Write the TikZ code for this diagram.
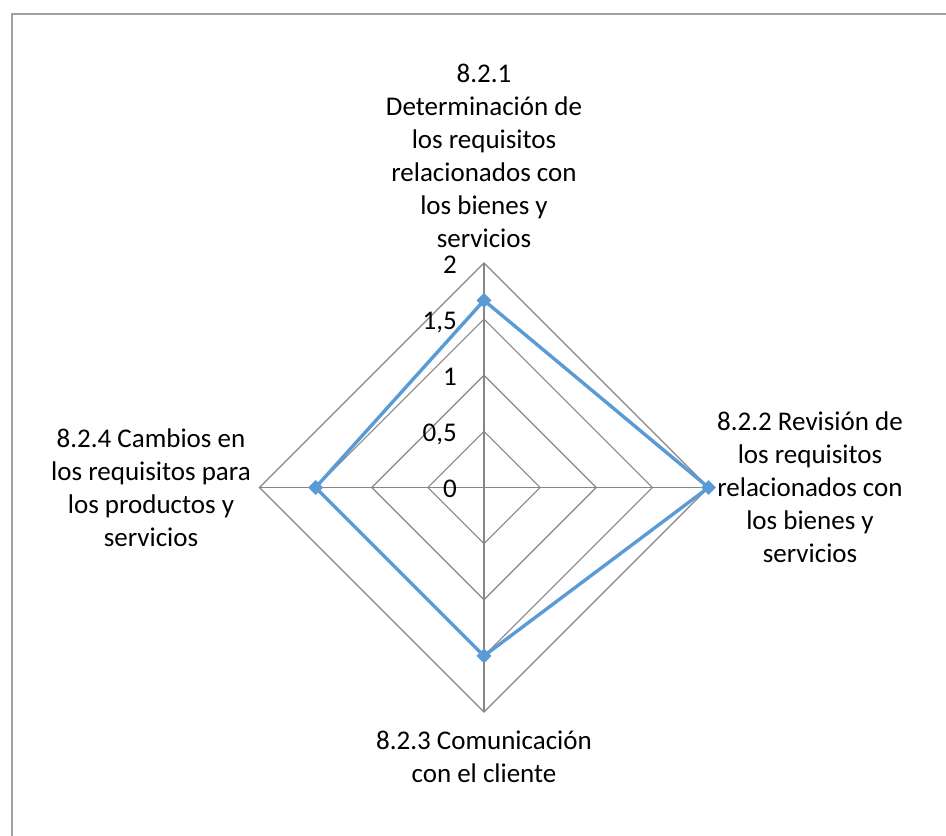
\documentclass[tikz,border=0pt]{standalone}
\usepackage{fontspec}
\setmainfont{Carlito}
\usetikzlibrary{shapes.geometric}
\definecolor{gridgray}{HTML}{868686}
\definecolor{serblue}{HTML}{5B9BD5}
\definecolor{framegray}{HTML}{A0A0A0}
\begin{document}
\begin{tikzpicture}[x=1pt,y=-1pt,
  gridline/.style={draw=gridgray,line width=1.1pt},
  frameline/.style={draw=framegray,line width=1.6pt},
  series/.style={draw=serblue,line width=3.4pt,line join=round},
  marker/.style={diamond,fill=serblue,inner sep=0pt,minimum size=15pt},
  catlabel/.style={anchor=base,inner sep=0pt,font=\fontsize{27}{33}\selectfont},
  ticklabel/.style={anchor=base east,inner sep=0pt,font=\fontsize{27}{33}\selectfont}]
\useasboundingbox (0,0) rectangle (946,836);
% chart frame (only top and left edges visible)
\draw[frameline] (12,836) -- (12,14) -- (946,14);
% grid
\coordinate (c) at (484,487.5);
\begin{scope}[shift={(484,487.5)}]
  \foreach \k in {1,2,3,4}{
    \pgfmathsetmacro{\r}{56.125*\k}
    \draw[gridline] (0,-\r) -- (\r,0) -- (0,\r) -- (-\r,0) -- cycle;
  }
  \coordinate (v1) at (0,-224.5);
  \coordinate (v2) at (224.5,0);
  \coordinate (v3) at (0,224.5);
  \coordinate (v4) at (-224.5,0);
  \coordinate (p1) at (0,-187.1);
  \coordinate (p2) at (224.5,0);
  \coordinate (p3) at (0,168.4);
  \coordinate (p4) at (-168.4,0);
\end{scope}
\foreach \v in {v1,v2,v3,v4}{\draw[gridline] (c) -- (\v);}
% tick labels
\node[ticklabel] (t0) at (457,497.5) {0};
\node[ticklabel] (t1) at (457,441.4) {0,5};
\node[ticklabel] (t2) at (457,385.2) {1};
\node[ticklabel] (t3) at (457,329.1) {1,5};
\node[ticklabel] (t4) at (457,273) {2};
% series
\draw[series] (p1) -- (p2) -- (p3) -- (p4) -- cycle;
\foreach \p in {p1,p2,p3,p4}{\node[marker] at (\p) {};}
% category labels
\node[catlabel] (l1) at (484,82) {\begin{tabular}[t]{@{}c@{}}8.2.1\\Determinación de\\los requisitos\\relacionados con\\los bienes y\\servicios\end{tabular}};
\node[catlabel] (l2) at (810,430) {\begin{tabular}[t]{@{}c@{}}8.2.2 Revisión de\\los requisitos\\relacionados con\\los bienes y\\servicios\end{tabular}};
\node[catlabel] (l3) at (484,749) {\begin{tabular}[t]{@{}c@{}}8.2.3 Comunicación\\con el cliente\end{tabular}};
\node[catlabel] (l4) at (151,447) {\begin{tabular}[t]{@{}c@{}}8.2.4 Cambios en\\los requisitos para\\los productos y\\servicios\end{tabular}};
\end{tikzpicture}
\end{document}
